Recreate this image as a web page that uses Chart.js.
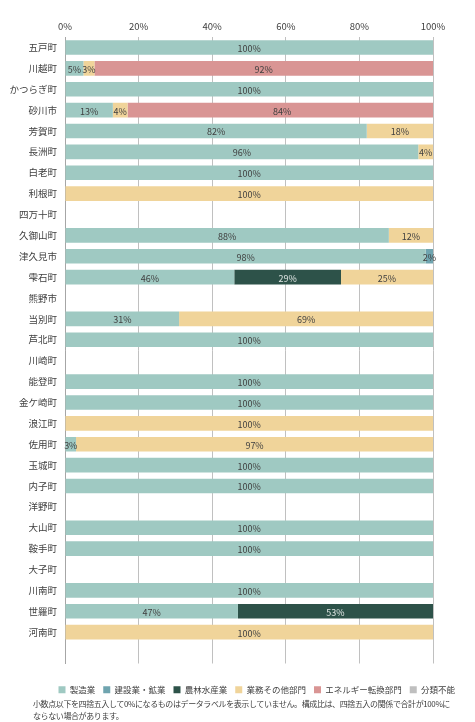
<!DOCTYPE html>
<html>
<head>
<meta charset="utf-8">
<script src="https://cdn.jsdelivr.net/npm/chart.js@4"></script>
<style>
  body { margin: 0; background: #fff; }
  #wrap { position: relative; width: 475px; height: 722px; }
  #note { position: absolute; left: 33px; top: 698px; width: 440px; white-space: nowrap;
          font: 8px "Noto Sans CJK JP", sans-serif; letter-spacing: -0.4px; color: #404040; line-height: 12px; }
</style>
</head>
<body>
<div id="wrap">
  <canvas id="chart" width="475" height="722"></canvas>
  <div id="note">小数点以下を四捨五入して0%になるものはデータラベルを表示していません。構成比は、四捨五入の関係で合計が100%に<br>ならない場合があります。</div>
</div>
<script>
const towns = ['五戸町','川越町','かつらぎ町','砂川市','芳賀町','長洲町','白老町','利根町','四万十町','久御山町',
  '津久見市','雫石町','熊野市','当別町','芦北町','川崎町','能登町','金ケ崎町','浪江町','佐用町',
  '玉城町','内子町','洋野町','大山町','鞍手町','大子町','川南町','世羅町','河南町','']

const seriesNames = ['製造業','建設業・鉱業','農林水産業','業務その他部門','エネルギー転換部門','分類不能']
const seriesColors = ['#9FC9C2','#6FA4AF','#2D5249','#F0D49A','#D99594','#BFBFBF']

const manufacturing = [100,5,100,13,82,96,100,0,0,88, 98,46,0,31,100,0,100,100,0,3, 100,100,0,100,100,0,100,47,0,0]
const construction  = [0,0,0,0,0,0,0,0,0,0, 2,0,0,0,0,0,0,0,0,0, 0,0,0,0,0,0,0,0,0,0]
const agriculture   = [0,0,0,0,0,0,0,0,0,0, 0,29,0,0,0,0,0,0,0,0, 0,0,0,0,0,0,0,53,0,0]
const commercial    = [0,3,0,4,18,4,0,100,0,12, 0,25,0,69,0,0,0,0,100,97, 0,0,0,0,0,0,0,0,100,0]
const energy        = [0,92,0,84,0,0,0,0,0,0, 0,0,0,0,0,0,0,0,0,0, 0,0,0,0,0,0,0,0,0,0]
const unclassified  = [0,0,0,0,0,0,0,0,0,0, 0,0,0,0,0,0,0,0,0,0, 0,0,0,0,0,0,0,0,0,0]
const xTicks = [0,20,40,60,80,100]

const seriesValues = [manufacturing, construction, agriculture, commercial, energy, unclassified]

const jp = '"Noto Sans CJK JP", sans-serif'

// draws the % label in the middle of each segment
const segmentLabels = {
  id: 'segmentLabels',
  afterDatasetsDraw(chart) {
    const ctx = chart.ctx
    ctx.save()
    ctx.font = '9px ' + jp
    ctx.textAlign = 'center'
    ctx.textBaseline = 'middle'
    chart.data.datasets.forEach((ds, i) => {
      chart.getDatasetMeta(i).data.forEach((bar, j) => {
        const v = ds.data[j]
        if (!v) return
        ctx.fillStyle = i === 2 ? '#E0E6E4' : '#404040'
        ctx.fillText(v + '%', (bar.x + bar.base) / 2, bar.y + 1)
      })
    })
    ctx.restore()
  }
}

// axes with nothing drawn on them, they only reserve space around the plot
const spacer = size => ({
  afterFit: s => { if (s.isHorizontal()) s.height = size; else s.width = size },
  ticks: { display: false },
  grid: { display: false },
  border: { display: false }
})

new Chart(document.getElementById('chart'), {
  type: 'bar',
  plugins: [segmentLabels],
  data: {
    labels: towns,
    datasets: seriesNames.map((name, i) => ({
      label: name,
      data: seriesValues[i],
      backgroundColor: seriesColors[i],
      borderWidth: 0,
      barPercentage: 0.7,
      categoryPercentage: 1
    }))
  },
  options: {
    indexAxis: 'y',
    responsive: false,
    animation: false,
    layout: { padding: { top: 0, right: 12, bottom: 18, left: 0 } },
    scales: {
      x: {
        position: 'top',
        stacked: true,
        min: 0,
        max: 100,
        afterBuildTicks: s => { s.ticks = xTicks.map(v => ({ value: v })) },
        afterFit: s => { s.height = 37 },
        ticks: { callback: v => v + '%', color: '#404040', font: { size: 9.5, family: jp }, padding: 5 },
        grid: { color: '#C0C0C0', drawTicks: false },
        border: { display: false }
      },
      y: {
        stacked: true,
        afterFit: s => { s.width = 65 },
        ticks: { color: '#404040', font: { size: 9.5, family: jp }, padding: 8, autoSkip: false },
        grid: { display: false, drawTicks: false },
        border: { color: '#A6A6A6', width: 1 }
      },
      yRight: { type: 'category', position: 'right', ...spacer(30) },
      xBottom: { type: 'linear', position: 'bottom', ...spacer(14) }
    },
    plugins: {
      legend: {
        position: 'bottom',
        align: 'end',
        labels: { boxWidth: 7, boxHeight: 7, padding: 8, color: '#404040', font: { size: 8.5, family: jp } }
      },
      tooltip: { enabled: false }
    }
  }
})
</script>
</body>
</html>
